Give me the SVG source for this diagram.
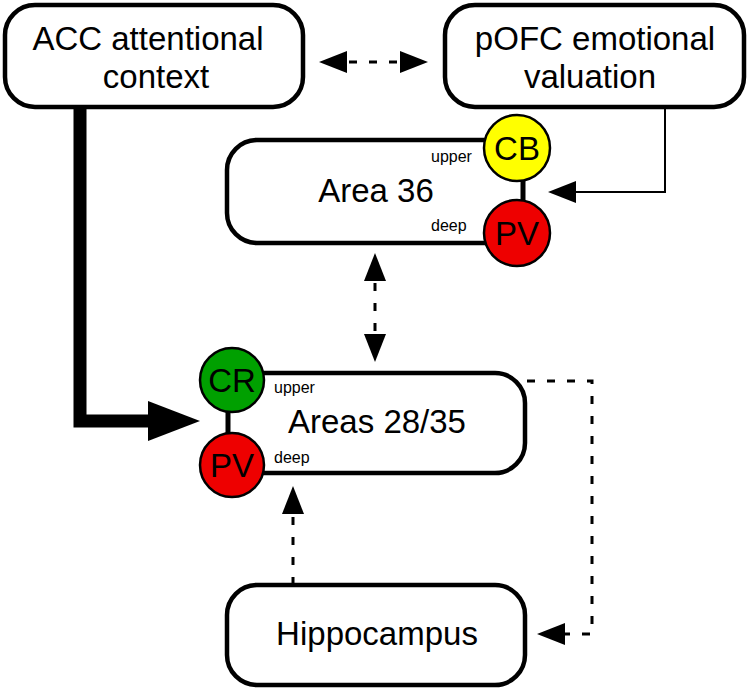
<svg xmlns="http://www.w3.org/2000/svg" width="750" height="693" viewBox="0 0 750 693">
<defs>
<style>
.box{fill:#fff;stroke:#000;stroke-width:4.5}
.fillw{fill:#fff;stroke:none}
.edge{fill:none;stroke:#000;stroke-width:4.5}
.t{font-family:"Liberation Sans",Arial,sans-serif;font-size:33px;fill:#000;text-anchor:middle}
.s{font-family:"Liberation Sans",Arial,sans-serif;font-size:16px;fill:#000}
.c{stroke:#000;stroke-width:2.5}
.stem{stroke:#000;stroke-width:5}
.dash{fill:none;stroke:#000;stroke-width:3;stroke-dasharray:8 12}
.solid{fill:none;stroke:#000;stroke-width:2}
</style>
<marker id="ah" viewBox="0 0 28 22" refX="18" refY="11" markerWidth="28" markerHeight="22" markerUnits="userSpaceOnUse" orient="auto-start-reverse">
<path d="M0,0 L28,11 L0,22 z" fill="#000"/>
</marker>
<marker id="big" viewBox="0 0 52 40" refX="2" refY="20" markerWidth="52" markerHeight="40" markerUnits="userSpaceOnUse" orient="auto">
<path d="M0,0 L52,20 L0,40 z" fill="#000"/>
</marker>
</defs>
<rect width="750" height="693" fill="#fff"/>
<g id="connectors">
<line class="dash" x1="329" y1="62" x2="418" y2="62" marker-start="url(#ah)" marker-end="url(#ah)"/>
<path class="solid" d="M665,108 V192 H558" marker-end="url(#ah)"/>
<line class="dash" x1="375" y1="263" x2="375" y2="352" marker-start="url(#ah)" marker-end="url(#ah)"/>
<path class="dash" d="M293,585 V496" marker-end="url(#ah)"/>
<path class="dash" d="M527,381 H592 V634 H547" marker-end="url(#ah)"/>
<path d="M80,108 V421 H150" fill="none" stroke="#000" stroke-width="13" stroke-linejoin="miter" marker-end="url(#big)"/>
</g>
<g id="acc">
<rect class="box" x="5" y="5" width="298" height="102" rx="30"/>
<text class="t" x="148" y="50">ACC attentional</text>
<text class="t" x="156" y="88">context</text>
</g>
<g id="pofc">
<rect class="box" x="445" y="5" width="299" height="102" rx="30"/>
<text class="t" x="595" y="50">pOFC emotional</text>
<text class="t" x="590" y="88">valuation</text>
</g>
<g id="area36">
<rect class="fillw" x="227" y="140" width="290" height="103" rx="30"/>
<path class="edge" d="M517,140 H257 A30,30 0 0 0 227,170 V213 A30,30 0 0 0 257,243 H517"/>
<text class="t" x="376" y="202">Area 36</text>
<text class="s" x="431" y="162">upper</text>
<text class="s" x="431" y="231">deep</text>
<line class="stem" x1="523" y1="175" x2="523" y2="205"/>
<circle class="c" cx="517" cy="148" r="33" fill="#ffff00"/>
<text class="t" x="517" y="160">CB</text>
<circle class="c" cx="517" cy="233" r="33" fill="#ee0000"/>
<text class="t" x="517" y="245">PV</text>
</g>
<g id="areas2835">
<rect class="fillw" x="232" y="373" width="293" height="100" rx="30"/>
<path class="edge" d="M232,373 H495 A30,30 0 0 1 525,403 V443 A30,30 0 0 1 495,473 H232"/>
<text class="t" x="377" y="433">Areas 28/35</text>
<text class="s" x="274" y="393">upper</text>
<text class="s" x="274" y="463">deep</text>
<line class="stem" x1="228" y1="405" x2="228" y2="440"/>
<circle class="c" cx="232" cy="380" r="32" fill="#00a000"/>
<text class="t" x="232" y="392">CR</text>
<circle class="c" cx="232" cy="465" r="32" fill="#ee0000"/>
<text class="t" x="232" y="477">PV</text>
</g>
<g id="hippocampus">
<rect class="box" x="227" y="585" width="298" height="100" rx="30"/>
<text class="t" x="377" y="645">Hippocampus</text>
</g>
</svg>
